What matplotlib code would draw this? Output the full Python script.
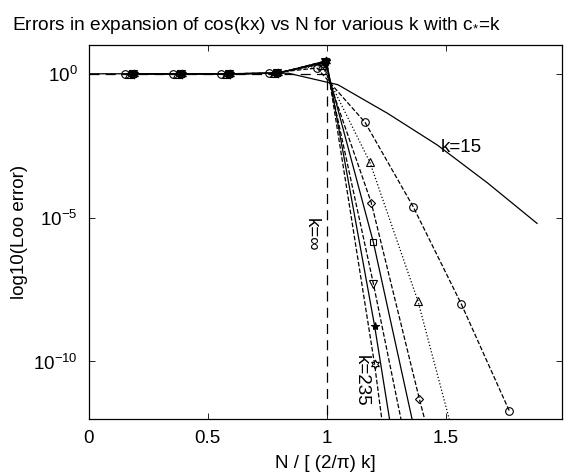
import numpy as np
import matplotlib
matplotlib.use("Agg")
import matplotlib.pyplot as plt

plt.rcParams.update({
    'font.family': ['Liberation Sans', 'DejaVu Sans'],
    'mathtext.fontset': 'custom',
    'mathtext.rm': 'Liberation Sans',
    'mathtext.it': 'Liberation Sans:italic',
    'font.size': 13.5,
})

# k=15 curve (no markers), x = N / ((2/pi) k), y = log10 error
x_k15 = [0, 0.209, 0.419, 0.628, 0.838, 1.047, 1.257, 1.466, 1.676, 1.885]
y_k15 = [0, 0, 0, 0, 0.02, -0.38, -1.38, -2.48, -3.79, -5.2]

# marked curves: x start offset, log10 error at each step of 0.2 in x
offsets = [0.150, 0.170, 0.176, 0.185, 0.185, 0.190, 0.190]
logerr = [
    [0, 0, 0, 0.02, 0.20, -1.69, -4.62, -8.0, -11.72],
    [0, 0, 0, 0.02, 0.30, -3.07, -7.9, -14.2],
    [0, 0, 0, 0.02, 0.35, -4.48, -11.3, -17.7],
    [0, 0, 0, 0.02, 0.40, -5.86, -13.5],
    [0, 0, 0, 0.02, 0.42, -7.3, -15.5],
    [0, 0, 0, 0.02, 0.45, -8.76, -19.2],
    [0, 0, 0, 0.02, 0.45, -10.1, -22.8],
]
markers = ['o', '^', 'D', 's', 'v', '*', (6, 1, 0)]
msizes = [5.5, 5.5, 4.5, 5, 5.5, 6, 6.5]
styles = ['--', ':', '--', '-', '--', '-', '--']

# k = infinity: step at x = 1
x_inf = [0, 1, 1]
y_inf = [0, 0, -14]

fig = plt.figure(figsize=(5.65, 4.76), dpi=100)
ax = fig.add_axes([89 / 565, 1 - 419 / 476, (562 - 89) / 565, (419 - 45) / 476])

ax.semilogy(x_k15, 10.0 ** np.array(y_k15), '-', color='k', lw=0.9)
ax.semilogy(x_inf, 10.0 ** np.array(y_inf), color='k', lw=0.9,
            dashes=(8, 5))
for off, le, m, ms, ls in zip(offsets, logerr, markers, msizes, styles):
    xs = off + 0.2023 * np.arange(len(le))
    filled = m == '*'
    ax.semilogy(xs, 10.0 ** np.array(le), linestyle=ls, color='k', lw=0.9,
                marker=m, markersize=ms,
                markerfacecolor='k' if filled else 'none',
                markeredgecolor='k', markeredgewidth=0.8)

ax.set_xlim(0, 1.99)
ax.set_ylim(1e-12, 10)
ax.set_xticks([0, 0.5, 1, 1.5])
ax.set_xticklabels(['0', '0.5', '1', '1.5'])
ax.set_yticks([1e-10, 1e-5, 1])
ax.set_yticklabels(['$10^{-10}$', '$10^{-5}$', '$10^{0}$'])
ax.minorticks_off()
ax.tick_params(direction='in', top=True, right=True, length=4, width=0.6,
               labelsize=13.5, pad=8)
for s in ax.spines.values():
    s.set_linewidth(0.9)

ax.text(1.567, 10 ** -2.55, 'k=15', ha='center', va='center')
ax.text(0.933, 10 ** -5.59, 'k=\u221e', ha='center', va='center',
        rotation=-90)
ax.text(1.147, 10 ** -10.66, 'k=235', ha='center', va='center',
        rotation=-90)

ax.set_xlabel('N / [ (2/\u03c0) k]', labelpad=6)
ax.set_ylabel('log10(Loo error)', labelpad=4)
fig.text(12 / 565, 1 - 26 / 476,
         'Errors in expansion of cos(kx) vs N for various k with c$_{*}$=k',
         ha='left', va='center', fontsize=13.8)

fig.savefig('out.png', dpi=100)
